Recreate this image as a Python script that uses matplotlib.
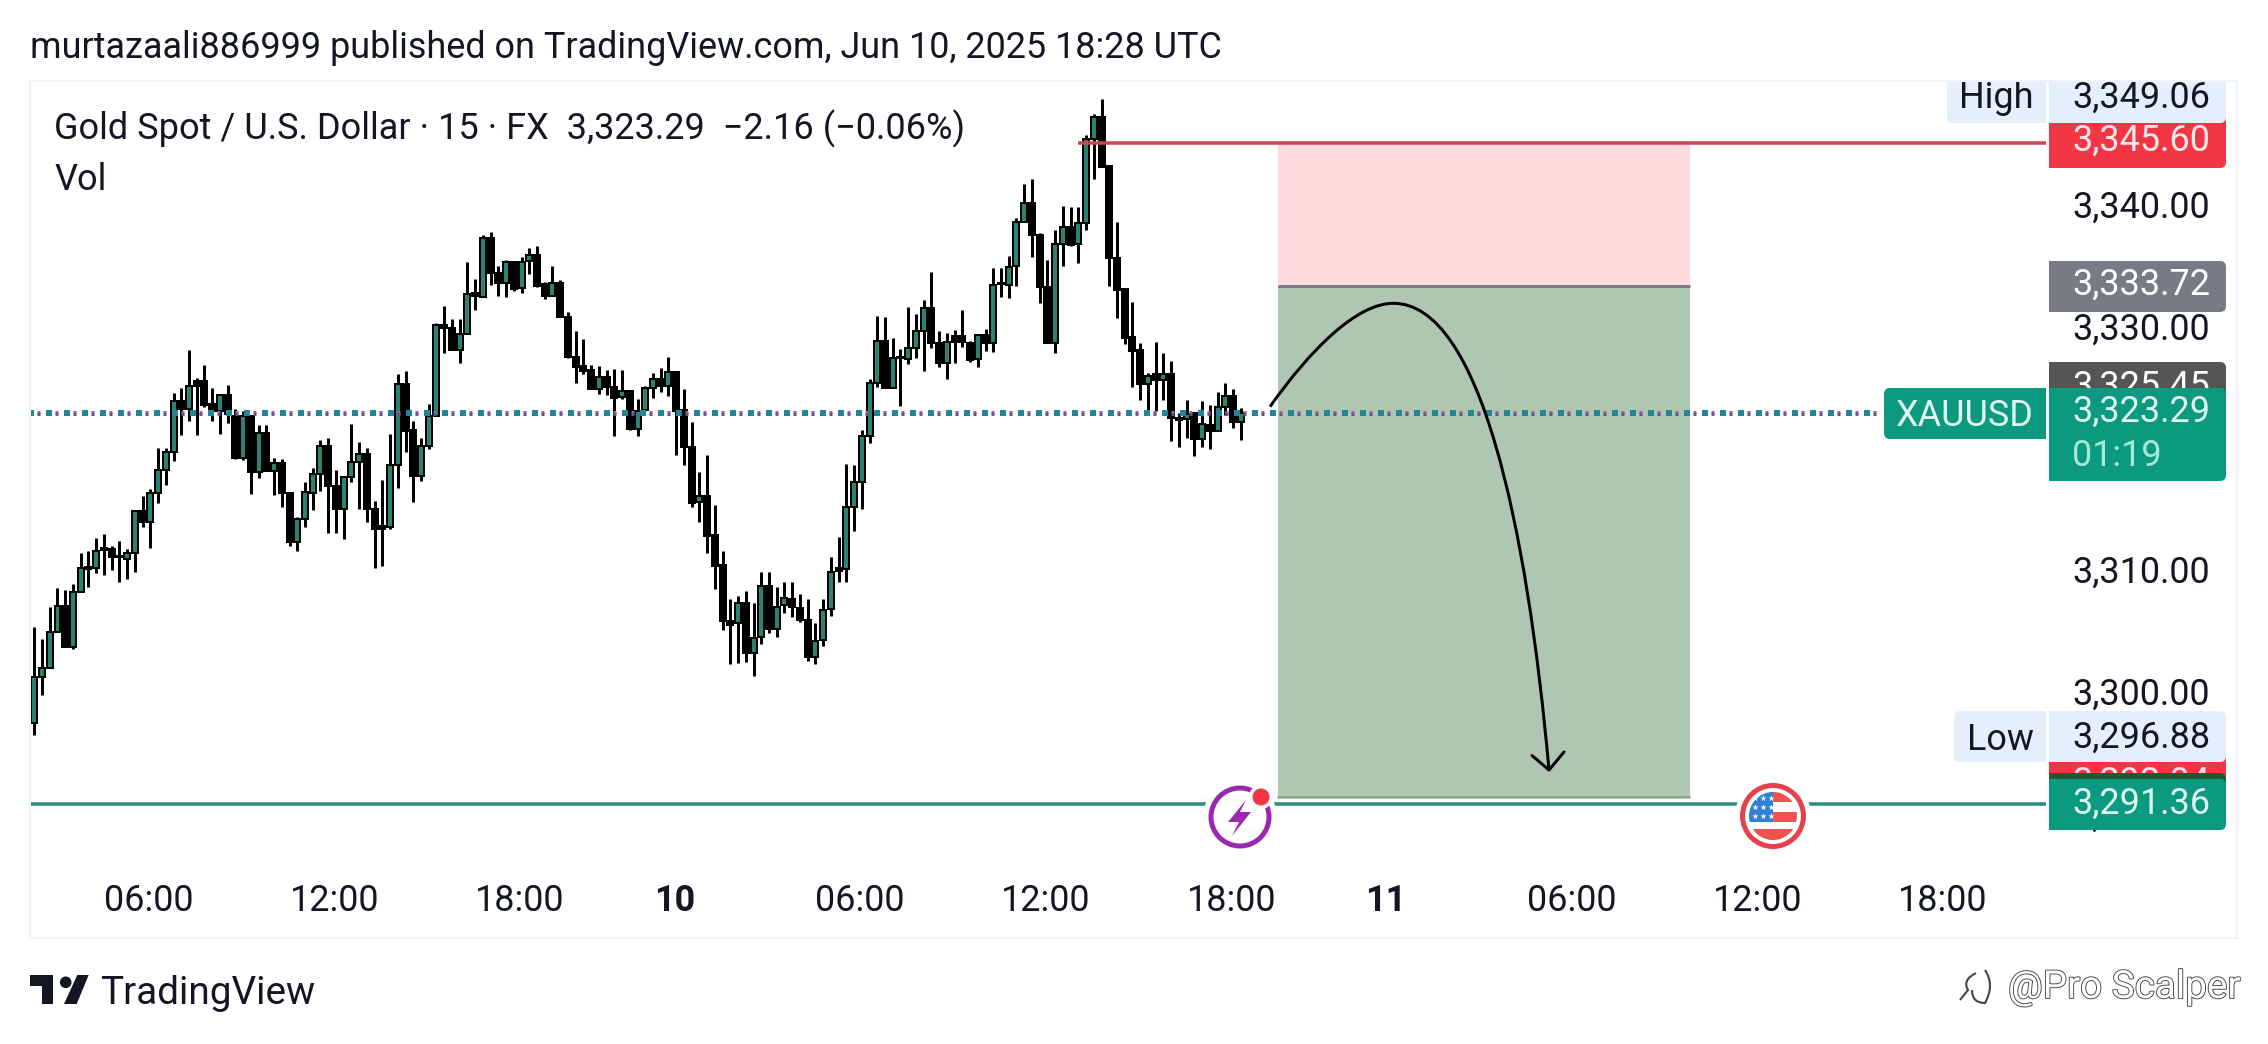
import numpy as np
import matplotlib
matplotlib.use('Agg')
import matplotlib.pyplot as plt
from matplotlib.patches import Rectangle, FancyBboxPatch, Circle, Polygon, PathPatch
from matplotlib.path import Path
import matplotlib.patheffects as pe

plt.rcParams['font.family'] = ['Roboto', 'DejaVu Sans']
plt.rcParams['lines.scale_dashes'] = False

# 15 min XAUUSD candles
opens = [3297.81, 3301.58, 3302.32, 3305.33, 3307.47, 3304.05, 3308.56, 3310.45, 3310.53, 3312.17,
         3312.09, 3311.57, 3311.27, 3311.76, 3315.21, 3314.36, 3316.69, 3318.58, 3320.06, 3324.24,
         3323.59, 3325.89, 3325.89, 3324.00, 3323.48, 3324.76, 3323.04, 3319.59, 3323.04, 3318.47,
         3321.62, 3318.55, 3319.15, 3316.75, 3312.73, 3314.56, 3316.75, 3318.26, 3320.58, 3317.33,
         3315.38, 3318.07, 3319.24, 3319.90, 3315.44, 3314.01, 3313.96, 3319.00, 3325.67, 3321.90,
         3318.12, 3320.61, 3323.05, 3330.49, 3330.24, 3328.47, 3329.75, 3333.15, 3332.84, 3337.63,
         3334.82, 3333.99, 3335.66, 3333.53, 3335.75, 3336.24, 3333.90, 3332.93, 3333.97, 3331.20,
         3327.92, 3327.15, 3326.83, 3325.29, 3326.22, 3325.40, 3324.64, 3325.10, 3322.01, 3323.51,
         3325.32, 3326.11, 3325.51, 3326.63, 3323.54, 3320.53, 3316.01, 3316.51, 3313.28, 3310.79,
         3306.24, 3306.02, 3307.72, 3303.56, 3304.93, 3309.12, 3305.53, 3307.50, 3308.05, 3307.30,
         3306.26, 3303.22, 3304.66, 3307.17, 3310.53, 3310.48, 3315.60, 3317.60, 3321.40, 3325.72,
         3329.23, 3325.31, 3327.91, 3327.69, 3328.65, 3330.05, 3331.94, 3329.06, 3327.37, 3329.61,
         3329.61, 3329.01, 3327.75, 3329.67, 3329.06, 3333.99, 3333.80, 3335.36, 3338.94, 3340.50,
         3337.88, 3333.66, 3329.01, 3337.17, 3338.53, 3337.17, 3338.86, 3345.76, 3347.57, 3343.57,
         3336.04, 3333.47, 3329.50, 3328.46, 3325.64, 3326.46, 3326.00, 3326.52, 3322.85, 3322.77,
         3323.26, 3321.13, 3322.30, 3321.81, 3323.76, 3324.68, 3322.55]
highs = [3305.69, 3304.70, 3307.33, 3308.89, 3308.75, 3309.22, 3311.76, 3311.95, 3312.99, 3313.32,
         3312.37, 3312.78, 3312.09, 3315.21, 3316.47, 3317.02, 3320.38, 3320.38, 3324.90, 3325.31,
         3328.46, 3326.13, 3327.23, 3325.31, 3324.76, 3325.56, 3323.59, 3323.42, 3323.04, 3322.30,
         3322.30, 3319.59, 3319.48, 3316.75, 3314.73, 3317.60, 3318.75, 3321.08, 3321.21, 3318.61,
         3318.12, 3322.36, 3320.88, 3320.39, 3316.07, 3317.79, 3321.57, 3326.50, 3326.74, 3322.64,
         3321.21, 3324.03, 3330.66, 3332.08, 3331.01, 3331.01, 3335.66, 3334.27, 3337.88, 3338.13,
         3335.36, 3335.86, 3335.66, 3336.07, 3336.81, 3337.01, 3334.07, 3335.35, 3334.24, 3331.58,
         3330.03, 3329.34, 3327.24, 3327.15, 3326.83, 3326.88, 3326.83, 3325.10, 3324.42, 3325.51,
         3326.61, 3326.99, 3327.87, 3326.77, 3325.24, 3322.56, 3318.42, 3319.82, 3315.74, 3311.96,
         3308.00, 3308.27, 3308.68, 3307.72, 3310.21, 3310.21, 3309.04, 3309.42, 3309.41, 3308.46,
         3308.05, 3306.04, 3307.99, 3311.44, 3313.13, 3319.07, 3319.02, 3321.89, 3326.05, 3331.25,
         3331.14, 3329.42, 3328.52, 3332.02, 3331.42, 3332.57, 3334.84, 3330.02, 3329.83, 3330.10,
         3331.75, 3329.20, 3329.77, 3330.16, 3335.17, 3335.17, 3336.18, 3339.27, 3342.06, 3342.47,
         3338.04, 3335.85, 3338.31, 3340.29, 3340.18, 3340.18, 3346.09, 3347.84, 3349.06, 3343.65,
         3338.97, 3333.52, 3332.38, 3329.01, 3326.55, 3329.09, 3328.19, 3327.53, 3323.26, 3324.36,
         3323.32, 3324.25, 3323.92, 3324.99, 3325.72, 3325.26, 3323.70]
lows = [3296.88, 3300.10, 3302.32, 3305.33, 3304.05, 3303.94, 3308.56, 3309.03, 3310.18, 3310.01,
        3310.39, 3309.44, 3309.66, 3310.26, 3313.95, 3312.23, 3315.92, 3317.37, 3319.37, 3321.51,
        3322.66, 3321.51, 3323.75, 3322.66, 3321.56, 3322.49, 3319.48, 3319.43, 3316.64, 3317.95,
        3318.55, 3316.55, 3315.59, 3312.37, 3311.99, 3313.96, 3315.33, 3316.92, 3313.47, 3313.47,
        3312.92, 3317.65, 3315.44, 3314.37, 3310.59, 3310.76, 3313.80, 3317.16, 3320.12, 3316.01,
        3317.74, 3320.36, 3323.05, 3328.25, 3328.47, 3327.43, 3329.75, 3331.75, 3332.84, 3333.80,
        3332.90, 3332.84, 3333.34, 3333.17, 3334.71, 3333.67, 3332.62, 3332.86, 3331.20, 3327.82,
        3325.79, 3326.50, 3325.29, 3324.85, 3324.77, 3321.41, 3324.42, 3321.90, 3321.41, 3323.51,
        3324.53, 3325.02, 3324.69, 3319.85, 3319.03, 3315.60, 3314.34, 3311.83, 3308.82, 3305.48,
        3302.69, 3302.80, 3302.88, 3301.73, 3304.33, 3305.26, 3304.93, 3306.90, 3306.58, 3306.17,
        3302.90, 3302.65, 3304.16, 3306.61, 3309.44, 3309.44, 3313.63, 3315.38, 3320.80, 3325.40,
        3325.31, 3325.31, 3323.89, 3327.31, 3327.78, 3326.76, 3328.65, 3327.09, 3326.11, 3327.42,
        3328.73, 3327.50, 3327.09, 3328.38, 3328.32, 3332.79, 3332.76, 3333.74, 3338.94, 3336.12,
        3332.35, 3329.01, 3328.24, 3335.39, 3337.03, 3335.63, 3338.31, 3342.53, 3343.51, 3333.74,
        3331.12, 3328.95, 3325.45, 3324.36, 3323.48, 3323.48, 3324.36, 3321.02, 3320.52, 3321.21,
        3319.79, 3320.47, 3320.36, 3321.81, 3323.12, 3322.08, 3321.07]
closes = [3301.58, 3302.32, 3305.33, 3307.47, 3304.05, 3308.56, 3310.53, 3310.61, 3311.95, 3312.01,
          3311.49, 3311.43, 3311.76, 3315.21, 3314.36, 3316.69, 3318.61, 3320.06, 3324.24, 3323.59,
          3325.50, 3325.50, 3323.94, 3323.48, 3324.76, 3323.20, 3319.59, 3323.04, 3318.47, 3321.62,
          3318.55, 3319.15, 3316.69, 3312.73, 3314.56, 3316.78, 3318.26, 3320.58, 3317.33, 3315.38,
          3318.07, 3319.24, 3319.90, 3315.44, 3313.74, 3313.74, 3319.00, 3325.67, 3321.84, 3318.12,
          3320.61, 3323.05, 3330.49, 3330.24, 3328.47, 3329.75, 3333.04, 3332.87, 3337.63, 3334.82,
          3333.99, 3335.66, 3333.47, 3335.72, 3336.24, 3333.72, 3332.86, 3333.97, 3331.20, 3327.89,
          3327.10, 3326.77, 3325.29, 3326.22, 3325.46, 3324.53, 3325.07, 3321.95, 3323.49, 3325.32,
          3326.11, 3325.51, 3326.63, 3323.49, 3320.53, 3315.93, 3316.51, 3313.20, 3310.76, 3306.24,
          3305.92, 3307.72, 3303.56, 3304.79, 3309.12, 3305.53, 3307.39, 3308.13, 3307.36, 3306.26,
          3303.22, 3304.60, 3307.11, 3310.26, 3310.34, 3315.60, 3317.60, 3321.40, 3325.72, 3329.23,
          3325.31, 3327.83, 3327.78, 3328.65, 3330.05, 3331.94, 3329.06, 3327.37, 3329.15, 3329.15,
          3329.15, 3327.64, 3329.67, 3329.06, 3333.82, 3333.85, 3335.30, 3338.94, 3340.50, 3337.88,
          3333.66, 3329.01, 3337.14, 3338.53, 3337.11, 3338.86, 3345.76, 3347.57, 3343.51, 3336.04,
          3333.39, 3329.47, 3328.41, 3325.64, 3326.33, 3326.00, 3326.52, 3322.85, 3322.71, 3323.21,
          3321.13, 3322.36, 3321.81, 3323.81, 3324.68, 3322.55, 3323.29]

last_price = 3323.29
entry_price = 3333.72
stop_price = 3345.60
stop_line_price = 3345.46
target_price = 3291.75
sl_line_price = 3291.19
position_bars = [160.8, 214.1]

tick_bars = [15, 39, 63, 83, 107, 131, 155, 175, 199, 223, 247]
tick_labels = ['06:00', '12:00', '18:00', '10', '06:00', '12:00', '18:00', '11', '06:00', '12:00', '18:00']
day_labels = ['10', '11']
price_ticks = [3340, 3330, 3320, 3310, 3300, 3290]

W, H = 2268, 1044
PX = 0.72  # points per pixel at dpi 100

fig = plt.figure(figsize=(W / 100, H / 100), dpi=100, facecolor='white')

# main price pane, x in bars and y in dollars
ax_l, ax_r, ax_t, ax_b = 30, 2236, 81, 938
ax = fig.add_axes([ax_l / W, 1 - ax_b / H, (ax_r - ax_l) / W, (ax_b - ax_t) / H])
ax.set_xlim(-0.556, 284.7)
ax.set_ylim(3280.19, 3350.55)
ax.axis('off')

opens = np.array(opens)
closes = np.array(closes)
bars = np.arange(len(opens))
up = closes >= opens
tops = np.maximum(opens, closes)
bots = np.minimum(opens, closes)

# trade box
ax.fill_between(position_bars, entry_price, stop_price, color='#fcdadd', lw=0, zorder=1)
ax.fill_between(position_bars, target_price - 0.12, entry_price, color='#afc6b1', lw=0, zorder=1)
ax.plot(position_bars, [target_price, target_price], color='#7fa283', lw=1.5 * PX, zorder=1.2)
ax.plot(position_bars, [entry_price, entry_price], color='#7b7c87', lw=3 * PX, zorder=1.2,
        solid_capstyle='butt')

ax.vlines(bars, lows, highs, color='black', lw=3 * PX, zorder=2, capstyle='butt')
ax.bar(bars, tops - bots, bottom=bots, width=6 / 7.734,
       color=np.where(up, '#2a8270', 'black'), edgecolor='black', linewidth=2 * PX, zorder=3)

# level lines
ax.plot([134.9, 260.1], [stop_line_price] * 2, color='#cc4657', lw=3.5 * PX, zorder=4, solid_capstyle='butt')
ax.plot([-0.556, 260.1], [sl_line_price] * 2, color='#2a8c7c', lw=3.5 * PX, zorder=1.5, solid_capstyle='butt')

# last price line, overlaid dotted lines
line_x = [-0.556, 238.4]
ax.plot(line_x, [last_price] * 2, color='#1f8c8c', lw=6 * PX, zorder=5, dash_capstyle='butt',
        linestyle=(2 * PX, (6 * PX, 12 * PX)))
ax.plot(line_x, [last_price - 0.12] * 2, color='#3f6fb0', lw=3 * PX, zorder=5, dash_capstyle='butt',
        linestyle=(2 * PX, (3 * PX, 15 * PX)))
ax.plot(line_x, [last_price + 0.12] * 2, color='#d0506e', lw=3 * PX, zorder=5, dash_capstyle='butt',
        linestyle=(11 * PX, (3 * PX, 15 * PX)))
ax.plot(line_x, [last_price - 0.12] * 2, color='#3f5fb8', lw=3 * PX, zorder=5, dash_capstyle='butt',
        linestyle=(11 * PX, (3 * PX, 15 * PX)))

FS = 25.9

for i, lab in zip(tick_bars, tick_labels):
    ax.text(i - 0.2, 3283.47 - 12.5 / 12.18, lab, ha='center', va='baseline', fontsize=FS, color='#131722',
            fontweight='bold' if lab in day_labels else 'normal', zorder=6)

# overlay in pixels for the chrome around the chart
ov = fig.add_axes([0, 0, 1, 1])
ov.set_xlim(0, W)
ov.set_ylim(H, 0)
ov.axis('off')
ov.patch.set_alpha(0)

z = [10]


def next_z():
    z[0] += 1
    return z[0]


def box(x0, y0, x1, y1, color, left_round=False, right_round=True):
    zz = next_z()
    r = 6
    ov.add_patch(FancyBboxPatch((x0 + r, y0 + r), x1 - x0 - 2 * r, y1 - y0 - 2 * r,
                                boxstyle='round,pad=%d,rounding_size=%d' % (r, r),
                                fc=color, ec='none', zorder=zz))
    if not left_round:
        ov.add_patch(Rectangle((x0, y0), 12, y1 - y0, fc=color, ec='none', zorder=zz))
    if not right_round:
        ov.add_patch(Rectangle((x1 - 12, y0), 12, y1 - y0, fc=color, ec='none', zorder=zz))


def label(x, yc, s, color='#131722', ha='left', size=FS, **kw):
    # yc is the middle of the digits
    return ov.text(x, yc + 12.5, s, color=color, ha=ha, va='baseline', fontsize=size, zorder=next_z(), **kw)


# price scale
for p in price_ticks:
    label(2072, 413 + (last_price - p) * 12.18 - 4.5, '{:,.2f}'.format(p))

box(2049, 362, 2226, 430, '#555555')
label(2072, 384.5, '3,325.45', color='white')
box(2049, 388, 2226, 481, '#0b9a80')
label(2072, 409, '3,323.29', color='#dff7f0')
label(2072, 453, '01:19', color='#a6e8d6')
box(1884, 388, 2046, 439, '#0b9a80', left_round=True, right_round=False)
label(1965, 413, 'XAUUSD', color='#dff7f0', ha='center')

box(2049, 261, 2226, 312, '#787b86')
label(2072, 282, '3,333.72', color='white')

box(2049, 110, 2226, 168, '#f23645')
label(2072, 138, '3,345.60', color='#fde8ea')
box(1947, 60, 2046, 123, '#e3effd', left_round=True, right_round=False)
label(1996, 95, 'High', ha='center')
box(2049, 60, 2226, 123, '#e3effd')
label(2072, 95, '3,349.06')

box(2049, 740, 2226, 815, '#f23645')
label(2072, 780, '3,292.04', color='#fde8ea')
box(2049, 773, 2226, 825, '#1f5a33')
box(1954, 711, 2046, 762, '#e3effd', left_round=True, right_round=False)
label(2000, 737, 'Low', ha='center')
box(2049, 711, 2226, 762, '#e3effd')
label(2072, 735, '3,296.88')
box(2049, 779, 2226, 830, '#0b9a80')
label(2072, 801, '3,291.36', color='#dff7f0')

# white strip and frame around the pane
zz = next_z()
ov.add_patch(Rectangle((0, 0), W, 80, fc='white', ec='none', zorder=zz))
zz = next_z()
ov.plot([30, 2237, 2237, 30, 30], [81, 81, 938, 938, 81], color='#f0f3fa', lw=2 * PX, zorder=zz)

label(30, 46, 'murtazaali886999 published on TradingView.com, Jun 10, 2025 18:28 UTC')
label(54, 127, 'Gold Spot / U.S. Dollar \u00b7 15 \u00b7 FX  3,323.29  \u22122.16 (\u22120.06%)', size=26)
label(54, 177, 'Vol', size=26)

# hand drawn forecast curve, pixels of the drawing tool
curve = Path([(1270, 406.7), (1310, 350), (1356.7, 303.3), (1393.3, 303.3),
              (1480, 303.3), (1526.7, 523.3), (1549, 770)],
             [Path.MOVETO, Path.CURVE4, Path.CURVE4, Path.CURVE4, Path.CURVE4, Path.CURVE4, Path.CURVE4])
ov.add_patch(PathPatch(curve, fc='none', ec='black', lw=3 * PX, zorder=next_z()))
ov.plot([1532, 1549, 1564], [755.5, 770, 752], color='black', lw=3 * PX, zorder=next_z(), solid_capstyle='round')

# events icon, lightning
zz = next_z()
ov.add_patch(Circle((1240, 817), 37, fc='white', ec='none', zorder=zz))
ov.add_patch(Circle((1240, 817), 29, fc='white', ec='#9c27b0', lw=5 * PX, zorder=zz))
ov.add_patch(Polygon([(1246, 800), (1228, 822), (1239, 822), (1232, 836), (1251, 812), (1240, 812)],
                     fc='#9c27b0', ec='none', zorder=zz))
ov.add_patch(Circle((1261, 797), 12, fc='white', ec='none', zorder=zz))
ov.add_patch(Circle((1261, 797), 8.5, fc='#f23645', ec='none', zorder=zz))

# events icon, US flag
zz = next_z()
ov.add_patch(Circle((1773, 816), 38, fc='white', ec='none', zorder=zz))
ov.add_patch(Circle((1773, 816), 30.5, fc='white', ec='#e6404f', lw=5 * PX, zorder=zz))
clip = Circle((1773, 816), 24, transform=ov.transData)
for y0, y1, c, x0 in [(792, 802, '#ef5350', 1773), (812, 822, '#ef5350', 1773), (829, 840, '#ef5350', 1749)]:
    r = ov.add_patch(Rectangle((x0, y0), 1797 - x0, y1 - y0, fc=c, ec='none', zorder=zz))
    r.set_clip_path(clip)
r = ov.add_patch(Rectangle((1749, 792), 24, 30, fc='#2f80d8', ec='none', zorder=zz))
r.set_clip_path(clip)
stars_x = [1755, 1763, 1771] * 3
stars_y = [798] * 3 + [807] * 3 + [816] * 3
ov.scatter(stars_x, stars_y, s=22, marker='*', color='white', linewidths=0, zorder=zz)

# TradingView logo
zz = next_z()
ov.add_patch(Polygon([(30, 975), (53.3, 975), (53.3, 1004), (41.7, 1004), (41.7, 986), (30, 986)],
                     fc='#131722', ec='none', zorder=zz))
ov.add_patch(Circle((65.7, 982.3), 5.8, fc='#131722', ec='none', zorder=zz))
ov.add_patch(Polygon([(77.3, 975), (88.7, 975), (76.7, 1004), (64, 1004)], fc='#131722', ec='none', zorder=zz))
ov.text(100, 1004, 'TradingView', fontsize=27.9, color='#131722', va='baseline', zorder=zz)

# watermark
stroke = [pe.withStroke(linewidth=1.3, foreground='#444444')]
ov.text(2008, 998, '@Pro Scalper', fontsize=27.8, color='white', va='baseline', zorder=zz, path_effects=stroke)
mark = Path([(1976, 973), (1962, 980), (1968, 990), (1960, 1000), (1972, 990), (1972, 1003), (1985, 1003),
             (1995, 985), (1985, 970)],
            [Path.MOVETO, Path.CURVE3, Path.CURVE3, Path.LINETO, Path.MOVETO, Path.CURVE3, Path.CURVE3,
             Path.CURVE3, Path.CURVE3])
ov.add_patch(PathPatch(mark, fc='none', ec='#444444', lw=1.5, zorder=zz))

fig.savefig('out.png', dpi=100, facecolor='white')
